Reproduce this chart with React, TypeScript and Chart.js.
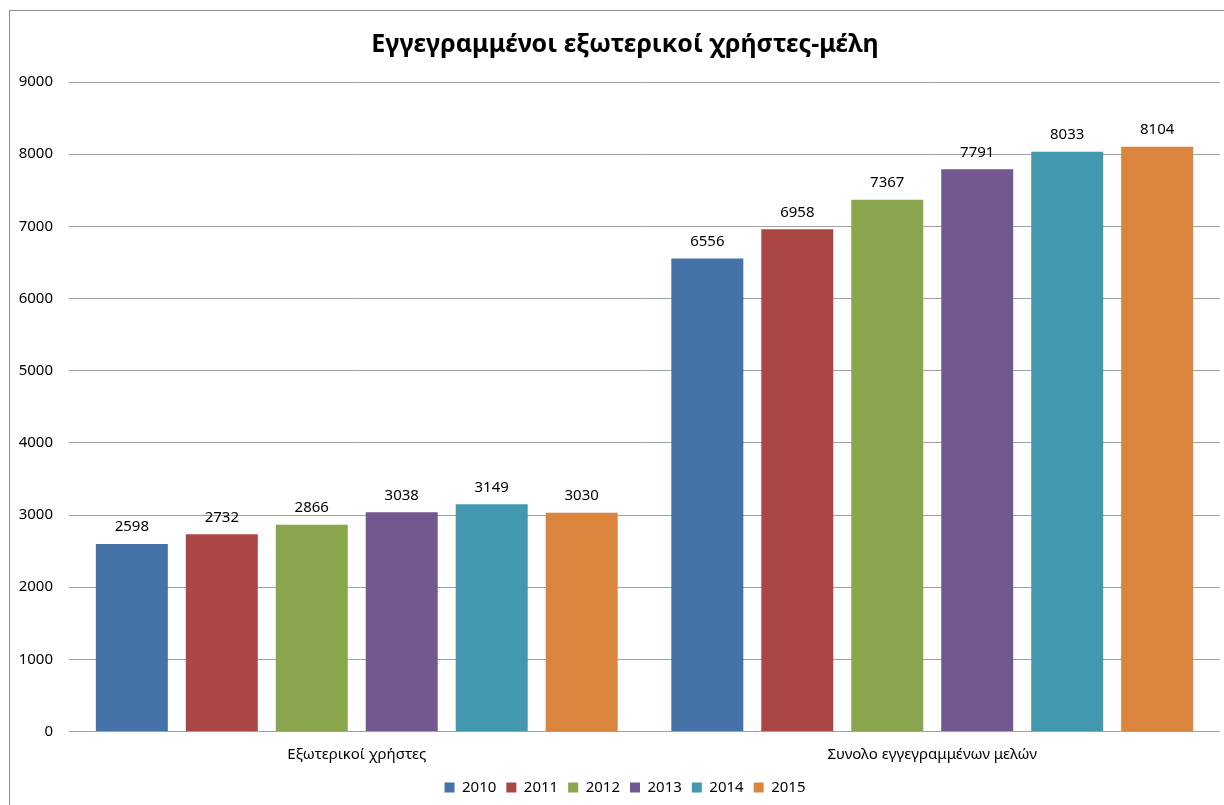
import React, { useEffect, useRef } from "react";
import { Chart, registerables } from "chart.js";

Chart.register(...registerables);

const titleText = "Εγγεγραμμένοι εξωτερικοί χρήστες-μέλη";
const categories = ["Εξωτερικοί χρήστες", "Συνολο εγγεγραμμένων μελών"];
const years = ["2010", "2011", "2012", "2013", "2014", "2015"];
const values2010 = [2598, 6556];
const values2011 = [2732, 6958];
const values2012 = [2866, 7367];
const values2013 = [3038, 7791];
const values2014 = [3149, 8033];
const values2015 = [3030, 8104];
const seriesValues = [values2010, values2011, values2012, values2013, values2014, values2015];
const colors = ["#4572A7", "#AA4643", "#89A54E", "#71588F", "#4198AF", "#DB843D"];
const yMin = 0;
const yMax = 9000;
const yStep = 1000;

const FONT = "'Noto Sans', 'DejaVu Sans', sans-serif";
const BLOCK_SHIFT = 15;

const framePlugin = {
  id: "frame",
  beforeDraw(chart: any) {
    const ctx = chart.ctx;
    ctx.save();
    ctx.fillStyle = "#ffffff";
    ctx.fillRect(0, 0, chart.width, chart.height);
    ctx.strokeStyle = "#8e8e8e";
    ctx.lineWidth = 1;
    ctx.strokeRect(9.5, 10.5, chart.width + 20, chart.height + 20);
    ctx.restore();
  },
};

const shiftPlugin = {
  id: "shiftBlocks",
  afterLayout(chart: any) {
    const blocks = [chart.titleBlock, chart.legend];
    blocks.forEach((b: any) => {
      if (b) {
        b.left += BLOCK_SHIFT;
        b.right += BLOCK_SHIFT;
      }
    });
  },
};

const dataLabelPlugin = {
  id: "dataLabels",
  afterDatasetsDraw(chart: any) {
    const ctx = chart.ctx;
    ctx.save();
    ctx.font = `15px ${FONT}`;
    ctx.fillStyle = "#000000";
    ctx.textAlign = "center";
    ctx.textBaseline = "middle";
    chart.data.datasets.forEach((ds: any, i: number) => {
      const meta = chart.getDatasetMeta(i);
      meta.data.forEach((bar: any, j: number) => {
        ctx.fillText(String(ds.data[j]), bar.x, bar.y - 17);
      });
    });
    ctx.restore();
  },
};

export default function App() {
  const canvasRef = useRef<HTMLCanvasElement | null>(null);

  useEffect(() => {
    const canvas = canvasRef.current;
    if (!canvas) return;
    const chart = new Chart(canvas, {
      type: "bar",
      data: {
        labels: categories,
        datasets: years.map((y, i) => ({
          label: y,
          data: seriesValues[i],
          backgroundColor: colors[i],
          borderWidth: 0,
          categoryPercentage: 0.938,
          barPercentage: 0.8,
        })),
      },
      options: {
        responsive: false,
        animation: false,
        layout: { padding: { left: 0, right: 4, top: 0, bottom: 0 } },
        plugins: {
          title: {
            display: true,
            text: titleText,
            color: "#000000",
            font: { family: FONT, size: 25, weight: "bold", lineHeight: 1.2 },
            padding: { top: 30, bottom: 22 },
          },
          legend: {
            display: true,
            position: "bottom",
            labels: {
              color: "#000000",
              font: { family: FONT, size: 15 },
              boxWidth: 10,
              boxHeight: 10,
              padding: 10,
            },
          },
          tooltip: { enabled: false },
        },
        scales: {
          x: {
            grid: { display: false, drawTicks: false },
            border: { display: false },
            ticks: {
              color: "#000000",
              font: { family: FONT, size: 15 },
              padding: 14,
            },
            afterFit(scale: any) {
              scale.height = 38.5;
            },
          },
          y: {
            min: yMin,
            max: yMax,
            grid: { color: "#a0a0a0", lineWidth: 1, drawTicks: false },
            border: { display: false },
            ticks: {
              stepSize: yStep,
              color: "#000000",
              font: { family: FONT, size: 15 },
              padding: 16,
              callback: (v: any) => String(v),
            },
            afterFit(scale: any) {
              scale.width = 69;
            },
          },
        },
      },
      plugins: [framePlugin, shiftPlugin, dataLabelPlugin],
    });
    return () => chart.destroy();
  }, []);

  return (
    <div style={{ position: "absolute", left: 0, top: 0, width: 1224, height: 805 }}>
      <canvas ref={canvasRef} width={1224} height={805} style={{ display: "block" }} />
    </div>
  );
}
